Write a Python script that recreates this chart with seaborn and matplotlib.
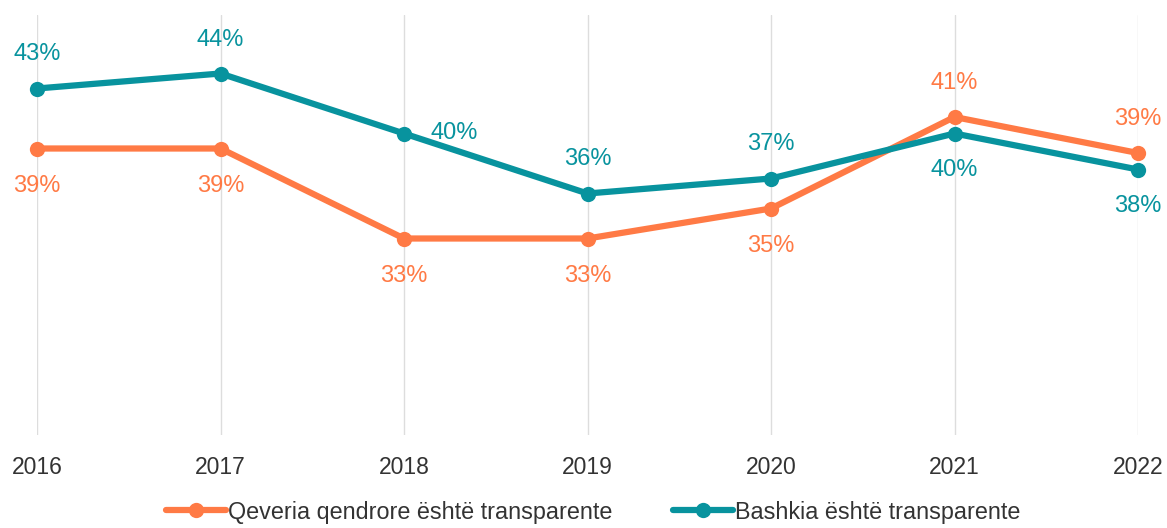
import matplotlib
matplotlib.use("Agg")
import matplotlib.pyplot as plt
import pandas as pd
import seaborn as sns

years = [2016, 2017, 2018, 2019, 2020, 2021, 2022]
qeveria = [39.0, 39.0, 33.0, 33.0, 35.0, 41.1, 38.7]
bashkia = [43.0, 44.0, 40.0, 36.0, 37.0, 40.0, 37.6]
qeveria_labels = ["39%", "39%", "33%", "33%", "35%", "41%", "39%"]
bashkia_labels = ["43%", "44%", "40%", "36%", "37%", "40%", "38%"]
series_names = ["Qeveria qendrore është transparente", "Bashkia është transparente"]

orange = "#FF7A45"
teal = "#08939E"

df = pd.DataFrame({
    "year": years * 2,
    "value": qeveria + bashkia,
    "series": [series_names[0]] * len(years) + [series_names[1]] * len(years),
})

sns.set_style("white")
plt.rcParams["font.family"] = ["Liberation Sans", "DejaVu Sans"]

fig = plt.figure(figsize=(11.67, 5.28), dpi=100)
ax = fig.add_axes([37 / 1167, 1 - 435 / 528, (1138 - 37) / 1167, 420 / 528])

sns.lineplot(data=df, x="year", y="value", hue="series",
             palette=[orange, teal], marker="o", markersize=11,
             markeredgewidth=0, linewidth=4.5, ax=ax, clip_on=False, legend=True)

ax.set_xlim(2016, 2022)
ax.set_ylim(19.9, 47.9)
ax.set_xticks(years)
ax.set_xticklabels([str(y) for y in years])
ax.set_yticks([])
ax.set_xlabel("")
ax.set_ylabel("")
ax.tick_params(axis="x", length=0, pad=15, labelsize=16.5, labelcolor="#333333")
for s in ax.spines.values():
    s.set_visible(False)
ax.grid(axis="x", color="#DDDDDD", linewidth=1)
ax.set_axisbelow(True)

# label placement: offsets in pixels
q_off = [(0, -38), (0, -38), (0, -38), (0, -38), (0, -38), (0, 34), (0, 34)]
b_off = [(0, 34), (0, 33), (50, 0), (0, 34), (0, 34), (0, -37), (0, -37)]
for x, v, lab, off in zip(years, qeveria, qeveria_labels, q_off):
    ax.annotate(lab, (x, v), xytext=off, textcoords="offset pixels",
                ha="center", va="center", fontsize=17, color=orange)
for x, v, lab, off in zip(years, bashkia, bashkia_labels, b_off):
    ax.annotate(lab, (x, v), xytext=off, textcoords="offset pixels",
                ha="center", va="center", fontsize=17, color=teal)

handles, labels = ax.get_legend_handles_labels()
ax.get_legend().remove()
fig.legend(handles, labels, loc="center", bbox_to_anchor=(0.508, 0.03),
           ncol=2, frameon=False, fontsize=16.8, handlelength=2.6,
           handletextpad=0.05, columnspacing=2.6, labelcolor="#333333",
           borderpad=0.1)

fig.savefig("out.png", dpi=100)
